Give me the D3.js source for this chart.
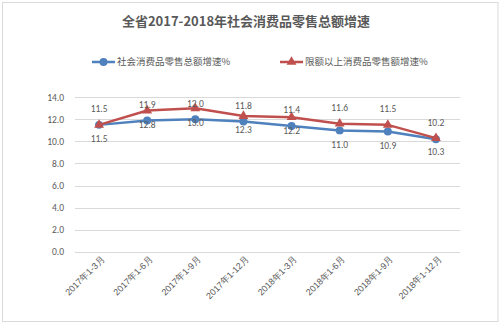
<!DOCTYPE html>
<html><head><meta charset="utf-8">
<script src="https://cdn.jsdelivr.net/npm/d3@7"></script>
<style>body{margin:0;background:#fff}svg{display:block;font-family:"Microsoft YaHei","Noto Sans CJK SC",sans-serif}</style>
</head><body>
<script>
const categories = ["2017年1-3月","2017年1-6月","2017年1-9月","2017年1-12月","2018年1-3月","2018年1-6月","2018年1-9月","2018年1-12月"];
const seriesNames = ["社会消费品零售总额增速%","限额以上消费品零售额增速%"];
const totalGrowth = [11.5, 11.9, 12.0, 11.8, 11.4, 11.0, 10.9, 10.2];
const aboveQuotaGrowth = [11.5, 12.8, 13.0, 12.3, 12.2, 11.6, 11.5, 10.3];
const yTicks = [0, 2, 4, 6, 8, 10, 12, 14];
const title = "全省2017-2018年社会消费品零售总额增速";
// label placement (+1 above, -1 below) per point
const totalLabelSide = [1, 1, 1, 1, 1, -1, -1, 1];
const quotaLabelSide = [-1, -1, -1, -1, -1, 1, 1, -1];

const W = 501, H = 324;
const svg = d3.select("body").append("svg").attr("width", W).attr("height", H);
svg.append("rect").attr("x", 2.5).attr("y", 2.5).attr("width", 495.5).attr("height", 319)
  .attr("fill", "#fff").attr("stroke", "#d9d9d9").attr("stroke-width", 1);

const x = d3.scaleBand().domain(categories).range([75, 460]);
const y = d3.scaleLinear().domain([0, 14]).range([251.7, 97.3]);
const cx = c => x(c) + x.bandwidth() / 2;

svg.append("text").attr("x", 246).attr("y", 22).attr("text-anchor", "middle")
  .attr("dominant-baseline", "middle").attr("font-size", 13).attr("font-weight", "bold")
  .attr("fill", "#595959").text(title);

// grid
const g = svg.append("g");
g.selectAll("line.grid").data(yTicks).join("line")
  .attr("x1", 75).attr("x2", 460).attr("y1", d => Math.round(y(d)) + 0.5).attr("y2", d => Math.round(y(d)) + 0.5)
  .attr("stroke", "#d9d9d9").attr("stroke-width", 1);

const yAxis = d3.axisLeft(y).tickValues(yTicks).tickFormat(d3.format(".1f")).tickSize(0).tickPadding(0);
const ya = svg.append("g").attr("transform", "translate(64,0)").call(yAxis);
ya.select(".domain").remove();
ya.selectAll("text").attr("font-size", 9.5).attr("fill", "#595959").attr("font-family", "Calibri, Carlito, 'Liberation Sans', sans-serif");

// x labels
const xAxis = d3.axisBottom(x).tickSize(0).tickPadding(0);
const xa = svg.append("g").attr("transform", "translate(0,252)").call(xAxis);
xa.select(".domain").remove();
xa.selectAll("text").attr("font-size", 9).attr("fill", "#595959")
  .attr("text-anchor", "end").attr("dy", 0).attr("y", 0)
  .attr("transform", "translate(6,8) rotate(-45)");

const series = [
  {name: seriesNames[0], values: totalGrowth, color: "#4F81BD", marker: "circle", side: totalLabelSide},
  {name: seriesNames[1], values: aboveQuotaGrowth, color: "#C0504D", marker: "triangle", side: quotaLabelSide}
];
const line = d3.line().x((d, i) => cx(categories[i])).y(d => y(d));
const sym = {circle: d3.symbol(d3.symbolCircle, 50), triangle: d3.symbol(d3.symbolTriangle, 42)};

series.forEach(s => {
  svg.append("path").datum(s.values).attr("d", line).attr("fill", "none")
    .attr("stroke", s.color).attr("stroke-width", 2.5).attr("stroke-linejoin", "round");
  svg.selectAll(null).data(s.values).join("path")
    .attr("d", sym[s.marker]).attr("fill", s.color)
    .attr("transform", (d, i) => `translate(${cx(categories[i])},${y(d)})`);
});
series.forEach(s => {
  svg.selectAll(null).data(s.values).join("text")
    .attr("x", (d, i) => cx(categories[i]))
    .attr("y", (d, i) => y(d) - s.side[i] * 15)
    .attr("text-anchor", "middle").attr("dominant-baseline", "middle")
    .attr("font-size", 9.5).attr("fill", "#595959")
    .attr("font-family", "Calibri, Carlito, 'Liberation Sans', sans-serif")
    .text(d => d3.format(".1f")(d));
});

// legend
const legendX = [92, 280];
series.forEach((s, i) => {
  const lg = svg.append("g").attr("transform", `translate(${legendX[i]},62)`);
  lg.append("line").attr("x1", 0).attr("x2", 23).attr("stroke", s.color).attr("stroke-width", 2.5);
  lg.append("path").attr("d", sym[s.marker]).attr("fill", s.color).attr("transform", "translate(11.5,0)");
  lg.append("text").attr("x", 25).attr("y", 0).attr("dominant-baseline", "middle")
    .attr("font-size", 9.5).attr("fill", "#595959").text(s.name);
});
</script>
</body></html>
